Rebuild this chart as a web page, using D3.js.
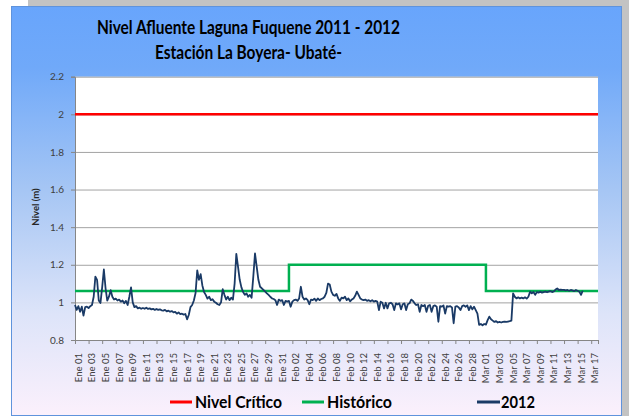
<!DOCTYPE html>
<html>
<head>
<meta charset="utf-8">
<script src="https://cdn.jsdelivr.net/npm/d3@7"></script>
<style>
  body { margin: 0; background: #fff; }
  svg { display: block; font-family: Lato, "Open Sans", sans-serif; }
</style>
</head>
<body>
<div id="chart"></div>
<script>
// tick labels on the date axis
const xLabels = ["Ene 01","Ene 03","Ene 05","Ene 07","Ene 09","Ene 11","Ene 13","Ene 15","Ene 17","Ene 19",
  "Ene 21","Ene 23","Ene 25","Ene 27","Ene 29","Ene 31","Feb 02","Feb 04","Feb 06","Feb 08","Feb 10",
  "Feb 12","Feb 14","Feb 16","Feb 18","Feb 20","Feb 22","Feb 24","Feb 26","Feb 28","Mar 01","Mar 03",
  "Mar 05","Mar 07","Mar 09","Mar 11","Mar 13","Mar 15","Mar 17"];
const yTicks = [0.8, 1.0, 1.2, 1.4, 1.6, 1.8, 2.0, 2.2];

// 2012 readings, one every 6 hours from 31 Dec 2011 12:00
const seriesStart = new Date(2011, 11, 31, 12);
const stepHours = 6;
const level2012 = [
  0.986,0.96,0.98,0.95,0.977,0.93,0.975,0.977,0.97,0.98,
  0.986,1.03,1.137,1.12,1.01,0.997,1.08,1.175,1.075,1.01,
  1.03,1.065,1.03,1.015,1.02,1.01,1.015,1.004,1.01,0.995,
  1.008,0.986,1.03,1.08,1.0,0.975,0.98,0.968,0.972,0.966,
  0.97,0.966,0.972,0.965,0.968,0.963,0.966,0.96,0.965,0.96,
  0.963,0.958,0.956,0.96,0.952,0.956,0.95,0.954,0.947,0.95,
  0.94,0.947,0.938,0.94,0.935,0.938,0.91,0.933,0.975,0.986,
  1.01,1.05,1.17,1.12,1.15,1.09,1.055,1.04,1.02,1.03,
  1.012,1.017,1.004,0.998,0.99,0.986,1.0,1.07,1.04,1.015,
  1.03,1.012,1.025,1.015,1.1,1.258,1.19,1.12,1.08,1.055,
  1.04,1.048,1.03,1.04,1.025,1.137,1.26,1.19,1.12,1.083,
  1.075,1.066,1.057,1.048,1.04,1.03,1.021,1.018,1.012,0.986,
  1.015,1.008,1.012,0.986,1.008,1.004,1.008,0.977,1.004,1.012,
  1.015,1.008,1.021,1.083,1.03,1.015,1.021,1.012,0.99,1.015,
  1.012,1.02,1.008,1.021,1.012,1.018,1.021,1.03,1.05,1.1,
  1.095,1.057,1.04,1.035,1.045,1.021,1.008,1.025,1.021,1.03,
  1.012,1.021,1.006,1.015,1.021,1.035,1.057,1.04,1.021,1.015,
  1.012,1.015,1.008,1.012,1.006,1.012,1.004,1.008,1.004,0.959,
  1.004,0.998,0.968,0.998,0.968,0.995,0.998,0.99,0.959,0.995,
  0.989,0.995,0.963,0.99,0.995,0.959,0.99,0.995,1.015,1.008,
  0.995,0.986,0.99,0.95,0.986,0.98,0.986,0.95,0.982,0.986,
  0.95,0.98,0.984,0.977,0.897,0.98,0.977,0.984,0.94,0.98,
  0.977,0.98,0.973,0.889,0.977,0.98,0.973,0.959,0.98,0.984,
  0.977,0.984,0.959,0.98,0.963,0.977,0.959,0.94,0.88,0.885,
  0.878,0.885,0.882,0.906,0.924,0.91,0.903,0.896,0.9,0.893,
  0.896,0.893,0.896,0.898,0.896,0.898,0.9,0.903,1.048,1.03,
  1.021,1.027,1.021,1.025,1.021,1.027,1.02,1.03,1.057,1.048,
  1.055,1.04,1.055,1.052,1.057,1.052,1.055,1.057,1.054,1.057,
  1.06,1.055,1.058,1.068,1.074,1.066,1.068,1.066,1.067,1.064,
  1.066,1.062,1.066,1.064,1.06,1.066,1.062,1.057,1.04,1.062
];

// historic monthly level (step) and critical level
const histDates = [new Date(2011, 11, 31, 12), new Date(2012, 1, 1), new Date(2012, 2, 1), new Date(2012, 2, 17, 12)];
const histValues = [1.06, 1.2, 1.06, 1.06];
const critDates = [new Date(2011, 11, 31, 12), new Date(2012, 2, 17, 12)];
const critValues = [2.0, 2.0];

const w = 629, h = 416;
const pLeft = 75, pRight = 598, pTop = 76.7, pBottom = 340;
const monthIdx = {Ene: 0, Feb: 1, Mar: 2};

const svg = d3.select("#chart").append("svg").attr("width", w).attr("height", h);

// frame / background
const grad = svg.append("defs").append("linearGradient")
    .attr("id", "bg").attr("x1", 0).attr("y1", 0).attr("x2", 0).attr("y2", 1);
[[0, "#68a5fc"], [0.15, "#70a9f9"], [0.45, "#a6c6f4"], [0.75, "#dde4f9"], [1, "#fbf0fc"]]
  .forEach(s => grad.append("stop").attr("offset", s[0]).attr("stop-color", s[1]));

svg.append("rect").attr("x", 28).attr("y", 0).attr("width", w - 28).attr("height", 7).attr("fill", "#c3c3c3");
svg.append("rect").attr("x", 622).attr("y", 0).attr("width", 7).attr("height", h).attr("fill", "#c3c3c3");
svg.append("rect").attr("x", 11.5).attr("y", 6.5).attr("width", 610).attr("height", 409)
    .attr("fill", "url(#bg)").attr("stroke", "#5f93dc");

svg.append("rect").attr("x", pLeft).attr("y", pTop).attr("width", pRight - pLeft).attr("height", pBottom - pTop)
    .attr("fill", "#fff");

const x = d3.scaleTime().domain([critDates[0], critDates[1]]).range([pLeft, pRight]);
const y = d3.scaleLinear().domain([0.8, 2.2]).range([pBottom, pTop]);

// gridlines
const grid = svg.append("g").attr("transform", `translate(${pLeft},0)`)
    .call(d3.axisLeft(y).tickValues(yTicks.slice(1)).tickSize(-(pRight - pLeft)).tickFormat(""));
grid.select(".domain").remove();
grid.selectAll("line").attr("stroke", "#a3a3a3");

// y axis
const yAxis = svg.append("g").attr("transform", `translate(${pLeft},0)`)
    .call(d3.axisLeft(y).tickValues(yTicks).tickSize(4).tickPadding(7).tickFormat(d => String(+d.toFixed(1))));
yAxis.select(".domain").attr("stroke", "#868686");
yAxis.selectAll("line").attr("stroke", "#868686");
yAxis.selectAll("text").attr("fill", "#404040").style("font-size", "10px").style("font-family", "Lato, sans-serif");

svg.append("text").attr("transform", "translate(39,207) rotate(-90)")
    .attr("text-anchor", "middle").attr("fill", "#262626")
    .style("font-size", "9.5px").style("font-weight", "bold").text("Nivel (m)");

// x axis ticks every 2 days
const tickDates = d3.range(0, 39).map(k => d3.timeHour.offset(critDates[0], 48 * k)).concat([critDates[1]]);
const xAxis = svg.append("g").attr("transform", `translate(0,${pBottom})`)
    .call(d3.axisBottom(x).tickValues(tickDates).tickSize(4).tickFormat(""));
xAxis.select(".domain").attr("stroke", "#868686");
xAxis.selectAll("line").attr("stroke", "#868686");

svg.append("g").selectAll("text").data(xLabels).join("text")
    .attr("transform", d => {
      const p = d.split(" ");
      const dt = new Date(2012, monthIdx[p[0]], +p[1]);
      return `translate(${x(dt) + 3.5},353) rotate(-90)`;
    })
    .attr("text-anchor", "end").attr("fill", "#404040")
    .style("font-size", "9.5px").text(d => d);

// series
const line = d3.line().x(d => x(d[0])).y(d => y(d[1]));

svg.append("path")
    .attr("d", line(critDates.map((d, i) => [d, critValues[i]])))
    .attr("fill", "none").attr("stroke", "#ff0000").attr("stroke-width", 2.5);

svg.append("path")
    .attr("d", d3.line().curve(d3.curveStepAfter).x(d => x(d[0])).y(d => y(d[1]))(histDates.map((d, i) => [d, histValues[i]])))
    .attr("fill", "none").attr("stroke", "#00b050").attr("stroke-width", 2.5);

const pts2012 = level2012.map((v, i) => [d3.timeHour.offset(seriesStart, i * stepHours), v]);
svg.append("path")
    .attr("d", line(pts2012))
    .attr("fill", "none").attr("stroke", "#1a3a66").attr("stroke-width", 1.8)
    .attr("stroke-linejoin", "round");

// titles
svg.append("text").attr("x", 248.5).attr("y", 33.5).attr("text-anchor", "middle")
    .attr("textLength", 303).attr("lengthAdjust", "spacingAndGlyphs")
    .style("font-size", "18px").style("font-weight", "bold").attr("fill", "#000")
    .text("Nivel Afluente Laguna Fuquene 2011 - 2012");
svg.append("text").attr("x", 248.5).attr("y", 58.5).attr("text-anchor", "middle")
    .attr("textLength", 187).attr("lengthAdjust", "spacingAndGlyphs")
    .style("font-size", "18px").style("font-weight", "bold").attr("fill", "#000")
    .text("Estación La Boyera- Ubaté-");

// legend
const legend = [
  {name: "Nivel Crítico", color: "#ff0000", x0: 170, x1: 192, tx: 195, tw: 87},
  {name: "Histórico", color: "#00b050", x0: 302, x1: 324, tx: 327, tw: 65},
  {name: "2012", color: "#1a3a66", x0: 477, x1: 500, tx: 501, tw: 34}
];
const lg = svg.append("g");
legend.forEach(d => {
  lg.append("line").attr("x1", d.x0).attr("x2", d.x1).attr("y1", 402).attr("y2", 402)
      .attr("stroke", d.color).attr("stroke-width", 3);
  lg.append("text").attr("x", d.tx).attr("y", 407.5)
      .attr("textLength", d.tw).attr("lengthAdjust", "spacingAndGlyphs")
      .style("font-size", "17px").style("font-weight", "bold").attr("fill", "#000").text(d.name);
});
</script>
</body>
</html>
